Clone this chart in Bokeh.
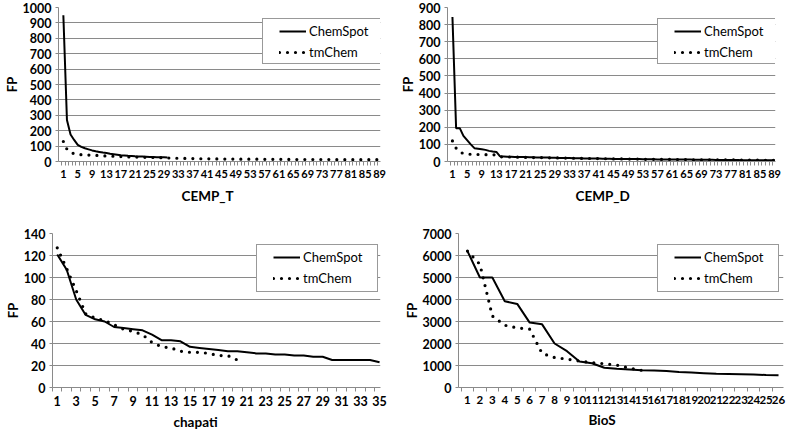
from bokeh.plotting import figure
from bokeh.layouts import column, row
from bokeh.models import Range1d, FixedTicker, SingleIntervalTicker, Legend, LegendItem, Title
from bokeh.embed import file_html
from bokeh.resources import INLINE

# ---------------- data ----------------
cemp_t_chemspot = [950, 270, 175, 140, 108, 95, 86, 79, 72, 66,
                   62, 58, 55, 50, 47, 44, 41, 39, 37, 36,
                   34, 33, 32, 31, 30, 29, 28, 28, 27, 26]
cemp_t_tmchem = [130, 80, 60, 50, 46, 44, 43, 42, 41, 40,
                 39, 37, 36, 35, 34, 33, 32, 31, 30, 30,
                 29, 28, 28, 27, 27, 26, 26, 25, 24, 23,
                 22, 21, 21, 20, 20, 19, 19, 19, 18, 18,
                 18, 17, 17, 17, 17, 16, 16, 16, 16, 15,
                 15, 15, 15, 15, 15, 14, 14, 14, 14, 14,
                 14, 14, 14, 13, 13, 13, 13, 13, 13, 13,
                 13, 13, 13, 13, 13, 12, 12, 12, 12, 12,
                 12, 12, 12, 12, 12, 12, 12, 12, 12]
cemp_d_chemspot = [845, 195, 195, 150, 125, 100, 78, 75, 72, 68,
                   62, 58, 56, 30, 29, 28, 28, 27, 27, 26,
                   26, 25, 25, 24, 24, 23, 23, 22, 22, 21,
                   21, 20, 20, 19, 19, 19, 18, 18, 18, 17,
                   17, 16, 16, 16, 15, 15, 15, 15, 14, 14,
                   14, 14, 13, 13, 13, 13, 12, 12, 12, 12,
                   12, 11, 11, 11, 11, 11, 10, 10, 10, 10,
                   10, 10, 9, 9, 9, 9, 9, 9, 9, 8,
                   8, 8, 8, 8, 8, 8, 8, 8, 7]
cemp_d_tmchem = [120, 78, 55, 47, 44, 42, 41, 41, 40, 40,
                 40, 39, 39, 28, 27, 27, 26, 26, 25, 25,
                 24, 24, 23, 23, 23, 22, 22, 21, 21, 21,
                 20, 20, 19, 19, 19, 18, 18, 18, 17, 17,
                 17, 16, 16, 16, 15, 15, 15, 15, 14, 14,
                 14, 14, 13, 13, 13, 13, 12, 12, 12, 12,
                 12, 11, 11, 11, 11, 11, 10, 10, 10, 10,
                 10, 10, 9, 9, 9, 9, 9, 9, 8, 8,
                 8, 8, 8, 8, 8, 7, 7, 7, 7]
chapati_chemspot = [121, 107, 80, 66, 62, 60, 55, 54, 53, 52,
                    48, 43, 43, 42, 37, 36, 35, 34, 33, 33,
                    32, 31, 31, 30, 30, 29, 29, 28, 28, 25,
                    25, 25, 25, 25, 23]
chapati_tmchem = [127, 108, 88, 67, 63, 61, 57, 53, 51, 48,
                  41, 37, 36, 33, 32, 32, 31, 29, 29, 25]
bios_chemspot = [6200, 5000, 5000, 3920, 3800, 2950, 2870, 2000, 1650, 1180,
                 1100, 900, 850, 820, 780, 770, 750, 700, 680, 650,
                 620, 610, 600, 590, 570, 560]
bios_tmchem = [6200, 5600, 3250, 2830, 2710, 2650, 1550, 1360, 1290, 1200,
               1130, 1080, 1020, 880, 780]

series_names = ["ChemSpot", "tmChem"]
y_title = "FP"

GRID = "#8a8a8a"
FONT = "Lato"


def make_panel(xtitle, n_cat, chem, tm, ymax, ystep, label_step, xr,
               width, height, bl, br, bt, bb, leg_loc, pad_b,
               xlab_size, title_offset, title_standoff):
    p = figure(width=width, height=height, output_backend="svg",
               toolbar_location=None,
               x_range=Range1d(*xr), y_range=Range1d(0, ymax),
               min_border_left=bl, min_border_right=br,
               min_border_top=bt, min_border_bottom=bb)
    p.outline_line_color = None
    p.background_fill_color = "white"
    p.border_fill_color = "white"

    r1 = p.line(list(range(1, len(chem) + 1)), chem, line_color="black",
                line_width=2)
    r2 = p.line(list(range(1, len(tm) + 1)), tm, line_color="black",
                line_width=3.2, line_dash="0 8", line_cap="round")

    # x axis (category style)
    labels = list(range(1, n_cat + 1, label_step))
    p.xaxis.ticker = FixedTicker(ticks=labels,
                                 minor_ticks=[k + 0.5 for k in range(0, n_cat + 1)])
    p.xaxis.major_tick_line_color = None
    p.xaxis.major_tick_out = 0
    p.xaxis.major_tick_in = 0
    p.xaxis.minor_tick_line_color = GRID
    p.xaxis.minor_tick_out = 4
    p.xaxis.minor_tick_in = 0
    p.xaxis.axis_line_color = GRID
    p.xaxis.major_label_standoff = 4
    p.xaxis.major_label_text_font_size = xlab_size
    p.xgrid.grid_line_color = None

    p.add_layout(Title(text=xtitle, align="left", offset=title_offset,
                       standoff=title_standoff,
                       text_font=FONT, text_font_style="bold",
                       text_font_size="13.5px", text_color="black"), "below")

    # y axis
    p.yaxis.ticker = SingleIntervalTicker(interval=ystep, num_minor_ticks=0)
    p.yaxis.axis_line_color = GRID
    p.yaxis.major_tick_line_color = GRID
    p.yaxis.major_tick_out = 3
    p.yaxis.major_tick_in = 0
    p.yaxis.minor_tick_line_color = None
    p.yaxis.major_label_standoff = 4
    p.yaxis.major_label_text_font_size = "12.5px"
    p.yaxis.axis_label = y_title
    p.yaxis.axis_label_text_font = FONT
    p.yaxis.axis_label_text_font_style = "bold"
    p.yaxis.axis_label_text_font_size = "13px"
    p.yaxis.axis_label_text_color = "black"
    p.yaxis.axis_label_standoff = 0
    p.ygrid.grid_line_color = GRID
    p.ygrid.grid_line_width = 1

    for ax in (p.xaxis, p.yaxis):
        ax.major_label_text_font = FONT
        ax.major_label_text_font_style = "bold"
        ax.major_label_text_color = "black"

    items = [LegendItem(label=series_names[0], renderers=[r1]),
             LegendItem(label=series_names[1], renderers=[r2])]
    common = dict(items=items, location=leg_loc,
                  glyph_width=27, glyph_height=14, label_height=14,
                  label_standoff=3, spacing=5,
                  label_text_font=FONT, label_text_font_size="13px",
                  label_text_color="black",
                  border_line_color="#333333", border_line_width=1,
                  background_fill_color="white", background_fill_alpha=1,
                  margin=0)
    try:
        leg = Legend(padding=(16, 15, 4, pad_b), **common)
    except Exception:
        leg = Legend(padding=5, **common)
    p.add_layout(leg, "center")
    return p


p1 = make_panel("CEMP_T", 89, cemp_t_chemspot, cemp_t_tmchem, 1000, 100, 4,
                (-0.35, 89.25), 395, 215, 52, 15, 7, 54, (204, 97), 3,
                "11px", 123, 11)
p2 = make_panel("CEMP_D", 89, cemp_d_chemspot, cemp_d_tmchem, 900, 100, 4,
                (-0.35, 89.25), 395, 215, 52, 15, 7, 54, (210, 97), 3,
                "11px", 128, 11)
p3 = make_panel("chapati", 35, chapati_chemspot, chapati_tmchem, 140, 20, 2,
                (0.5, 35.1), 395, 218, 52, 15, 18, 46, (204, 95), 5,
                "12.5px", 121, 6)
p4 = make_panel("BioS", 26, bios_chemspot, bios_tmchem, 7000, 1000, 1,
                (0.28, 26.4), 395, 218, 63, 7, 18, 46, (199, 95), 5,
                "11.5px", 130, 6)

layout = column(row(p1, p2), row(p3, p4))
open("out.html", "w").write(file_html(layout, INLINE))
